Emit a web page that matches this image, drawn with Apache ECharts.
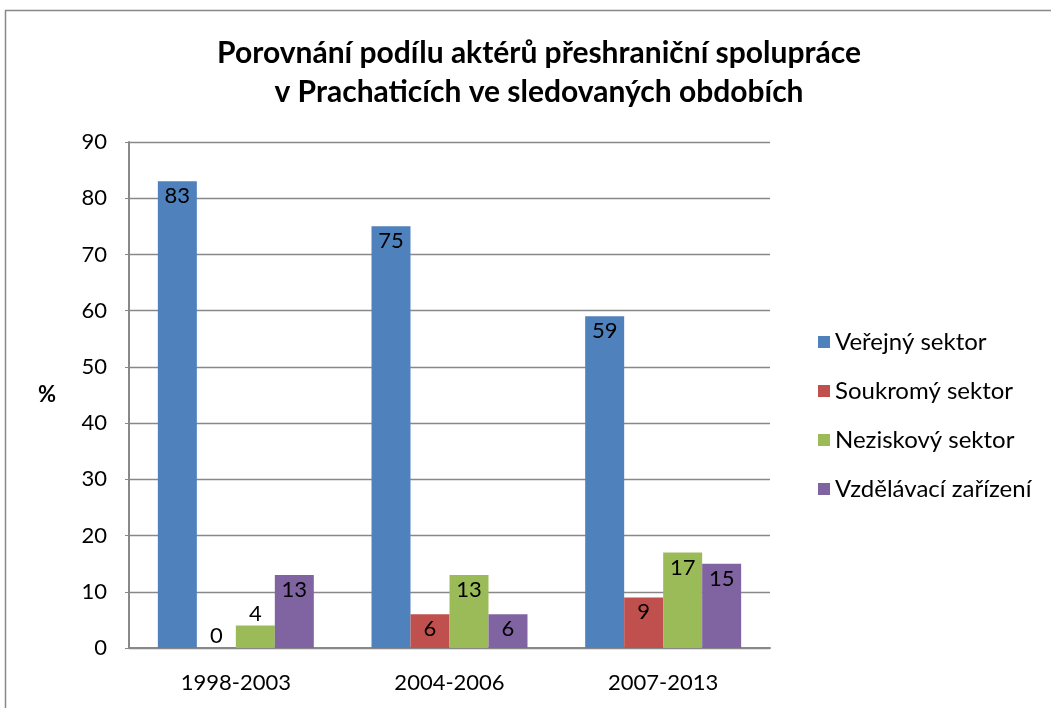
<!DOCTYPE html>
<html>
<head>
<meta charset="utf-8">
<script src="https://cdn.jsdelivr.net/npm/echarts@6/dist/echarts.min.js"></script>
<style>
  html, body { margin: 0; padding: 0; background: #fff; }
  #main { width: 1051px; height: 708px; }
</style>
</head>
<body>
<div id="main"></div>
<script>
// data
var periods = ['1998-2003', '2004-2006', '2007-2013'];
var seriesNames = ['Veřejný sektor', 'Soukromý sektor', 'Neziskový sektor', 'Vzdělávací zařízení'];
var verejny = [83, 75, 59];
var soukromy = [0, 6, 9];
var neziskovy = [4, 13, 17];
var vzdelavaci = [13, 6, 15];
var colors = ['#4F81BD', '#C0504D', '#9BBB59', '#8064A2'];

var font = 'Lato, "Open Sans", sans-serif';

// small bars get their label above the bar, like Excel does
function toData(arr) {
  return arr.map(function (v) {
    if (v < 5) {
      return { value: v, label: { position: 'top', distance: 1 } };
    }
    return v;
  });
}

var chart = echarts.init(document.getElementById('main'));
var allValues = [verejny, soukromy, neziskovy, vzdelavaci];

var series = seriesNames.map(function (name, i) {
  return {
    name: name,
    type: 'bar',
    data: toData(allValues[i]),
    itemStyle: { color: colors[i] },
    barGap: '0%',
    barCategoryGap: '27%',
    label: {
      show: true,
      position: 'insideTop',
      distance: 4,
      color: '#000',
      fontSize: 22,
      fontFamily: font
    }
  };
});

chart.setOption({
  animation: false,
  title: {
    text: 'Porovnání podílu aktérů přeshraniční spolupráce\nv Prachaticích ve sledovaných obdobích',
    left: 534,
    top: 29,
    textAlign: 'center',
    textStyle: {
      fontFamily: font,
      fontWeight: 'bold',
      fontSize: 30,
      lineHeight: 39,
      color: '#000'
    }
  },
  legend: {
    orient: 'vertical',
    left: 813,
    top: 325,
    itemWidth: 12,
    itemHeight: 12,
    itemGap: 25,
    icon: 'rect',
    textStyle: { fontFamily: font, fontSize: 24, color: '#000' },
    data: seriesNames
  },
  grid: { left: 129, right: 281, top: 142, bottom: 60, containLabel: false },
  xAxis: {
    type: 'category',
    data: periods,
    axisLine: { lineStyle: { color: '#888', width: 2 } },
    axisTick: { show: false },
    axisLabel: { fontFamily: font, fontSize: 22, color: '#000', margin: 24 }
  },
  yAxis: {
    type: 'value',
    min: 0,
    max: 90,
    interval: 10,
    name: '%',
    nameLocation: 'middle',
    nameRotate: 0,
    nameGap: 73,
    nameTextStyle: { fontFamily: font, fontSize: 22, fontWeight: 'bold', color: '#000' },
    axisLine: { show: true, lineStyle: { color: '#888', width: 2 } },
    axisTick: { show: true, length: 4, lineStyle: { color: '#888' } },
    axisLabel: { fontFamily: font, fontSize: 22, color: '#000', margin: 22 },
    splitLine: { lineStyle: { color: '#888', width: 1.3 } }
  },
  graphic: [{
    type: 'rect',
    shape: { x: 5.5, y: 10.5, width: 1100, height: 800 },
    style: { fill: 'none', stroke: '#888', lineWidth: 1.5 },
    silent: true
  }],
  series: series
});
</script>
</body>
</html>
